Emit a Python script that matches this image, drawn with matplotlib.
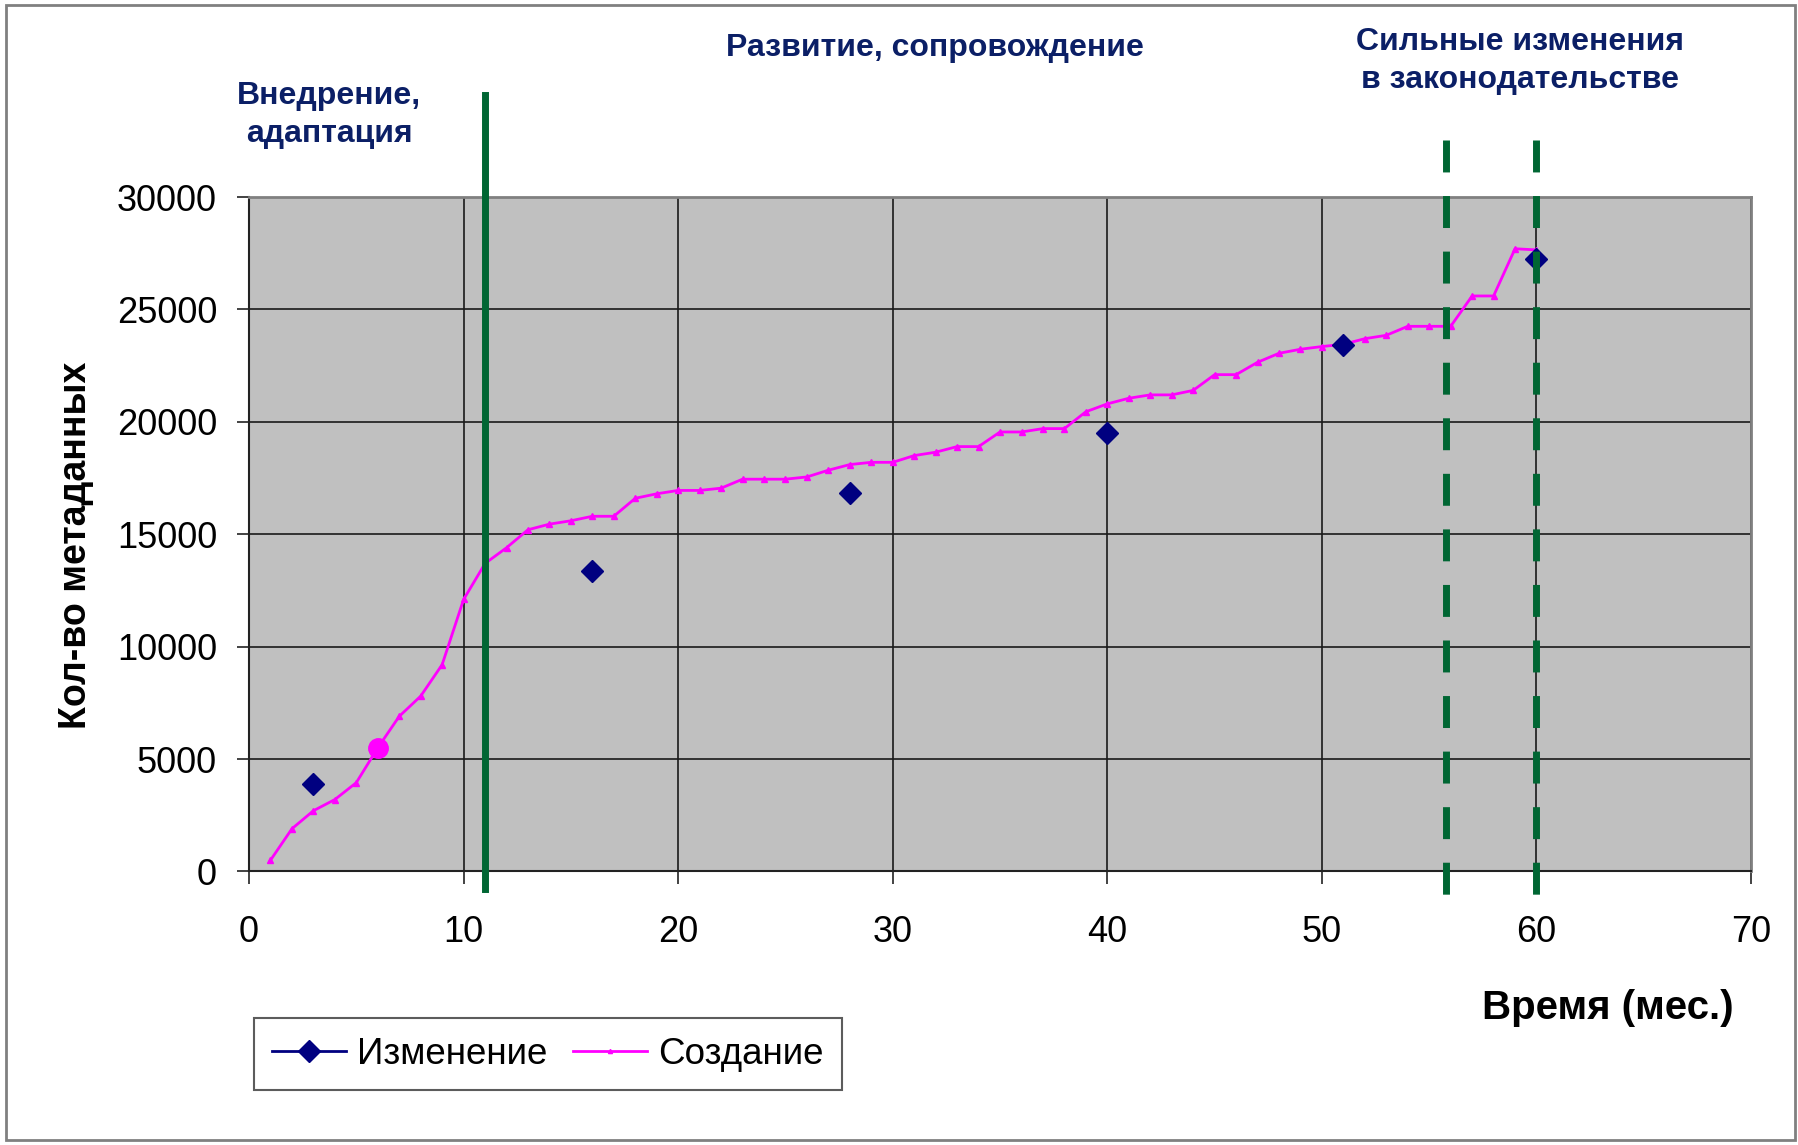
import matplotlib
matplotlib.use('Agg')
import matplotlib.pyplot as plt
from matplotlib.lines import Line2D
from matplotlib.patches import Rectangle

plt.rcParams['font.family'] = ['Liberation Sans', 'DejaVu Sans']

# Создание: one point per month, 1..60
months = list(range(1, 61))
created = [500, 1900, 2700, 3200, 3950, 5500, 6900, 7800, 9200, 12100,
           13700, 14400, 15200, 15450, 15600, 15800, 15800, 16600, 16800, 16950,
           16950, 17050, 17450, 17450, 17450, 17550, 17850, 18100, 18200, 18200,
           18500, 18650, 18900, 18900, 19550, 19550, 19700, 19700, 20450, 20800,
           21050, 21200, 21200, 21400, 22100, 22100, 22650, 23050, 23230, 23350,
           23450, 23700, 23850, 24250, 24250, 24250, 25600, 25600, 27700, 27650]

# Изменение
changed_x = [3, 16, 28, 40, 51, 60]
changed_y = [3900, 13350, 16850, 19500, 23400, 27250]

highlight_month = 6
solid_marks = [11]
dashed_marks = [55.8, 60]

phase_labels = ['Внедрение,\nадаптация', 'Развитие, сопровождение',
                'Сильные изменения\nв законодательстве']

navy = '#000080'
text_navy = '#0b1f66'
green = '#006633'
magenta = '#ff00ff'

fig = plt.figure(figsize=(17.98, 11.45), dpi=100)
ax = fig.add_axes([0.1385, 0.2389, 0.8354, 0.589])
ax.set_facecolor('#c0c0c0')

ax.plot(months, created, color=magenta, lw=2, marker='^', ms=4, zorder=3)
ax.plot([highlight_month], [created[months.index(highlight_month)]], 'o',
        color=magenta, ms=14, zorder=4)
ax.plot(changed_x, changed_y, linestyle='none', marker='D', color=navy,
        ms=11, zorder=5)

for x in solid_marks:
    ax.plot([x, x], [-780, 34540], color=green, lw=5, clip_on=False, zorder=6)
# drawn top-down so the dash pattern starts at the top
for x in dashed_marks:
    ax.plot([x, x], [32540, -1270], color=green, lw=5, clip_on=False,
            dashes=(4.6, 3.4), zorder=6)

ax.set_xlim(0, 70)
ax.set_ylim(0, 30000)
ax.set_xticks(range(0, 71, 10))
ax.set_yticks(range(0, 30001, 5000))
ax.grid(True, color='#1a1a1a', lw=1.2)
ax.set_axisbelow(True)
ax.tick_params(axis='both', direction='out', length=9, width=1.2,
               labelsize=26, color='#222222')
ax.tick_params(axis='y', pad=14)
ax.tick_params(axis='x', pad=22)
for s in ('top', 'right'):
    ax.spines[s].set_color('#808080')
    ax.spines[s].set_linewidth(2)
for s in ('left', 'bottom'):
    ax.spines[s].set_color('#222222')
    ax.spines[s].set_linewidth(1.5)

fig.text(76 / 1798, 1 - 545 / 1145, 'Кол-во метаданных', rotation=90,
         ha='center', va='center', fontsize=27, fontweight='bold')
fig.text(1608 / 1798, 1 - 1008 / 1145, 'Время (мес.)', ha='center',
         va='center', fontsize=29, fontweight='bold')

fig.text(329 / 1798, 1 - 115 / 1145, phase_labels[0], ha='center',
         va='center', fontsize=23, fontweight='bold', color=text_navy,
         linespacing=1.35)
fig.text(935 / 1798, 1 - 48 / 1145, phase_labels[1], ha='center',
         va='center', fontsize=23, fontweight='bold', color=text_navy)
fig.text(1520 / 1798, 1 - 61 / 1145, phase_labels[2], ha='center',
         va='center', fontsize=23, fontweight='bold', color=text_navy,
         linespacing=1.35)

handles = [Line2D([], [], color=navy, lw=2, marker='D', ms=11),
           Line2D([], [], color=magenta, lw=2, marker='^', ms=3)]
leg = fig.legend(handles, ['Изменение', 'Создание'], loc='lower left',
                 bbox_to_anchor=(254 / 1798, 1 - 1090 / 1145), ncol=2,
                 fontsize=26.5, frameon=True, fancybox=False,
                 edgecolor='#333333', handlelength=2.0, handletextpad=0.3,
                 columnspacing=0.7, borderpad=0.5, borderaxespad=0)
leg.get_frame().set_linewidth(1.5)

fig.patches.append(Rectangle((6 / 1798, 5 / 1145), 1789 / 1798, 1135 / 1145,
                             transform=fig.transFigure, fill=False,
                             edgecolor='#808080', lw=2))

fig.savefig('out.png', dpi=100)
